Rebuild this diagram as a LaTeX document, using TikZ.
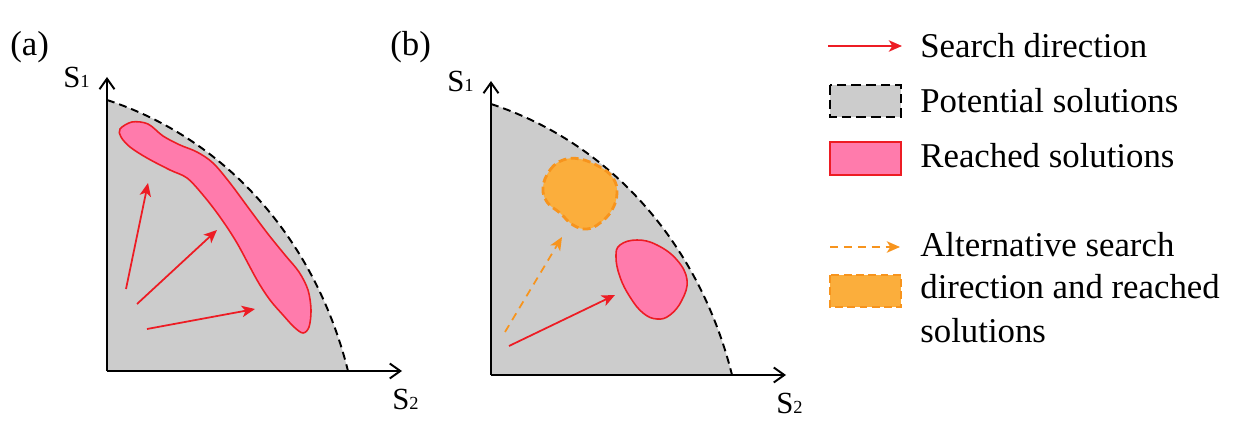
\documentclass[tikz,border=0pt]{standalone}
\usepackage{fontspec}
\setmainfont{Liberation Serif}
\usetikzlibrary{arrows.meta}
\definecolor{potgray}{HTML}{CCCCCC}
\definecolor{reachpink}{HTML}{FF7BAC}
\definecolor{searchred}{HTML}{ED1C24}
\definecolor{altfill}{HTML}{FBAE3C}
\definecolor{altline}{HTML}{F7941D}
\tikzset{
  axis/.style={line width=1.1pt, -{Straight Barb[length=6pt,width=8.5pt,line width=1.1pt]}},
  front/.style={line width=1.1pt, dash pattern=on 4.5pt off 2.8pt},
  potential/.style={fill=potgray},
  reached/.style={fill=reachpink, draw=searchred, line width=0.9pt},
  altreached/.style={fill=altfill, draw=altline, line width=1.6pt, dash pattern=on 4.5pt off 2.5pt},
  searcharrow/.style={draw=searchred, line width=1pt, -{Stealth[length=7.5pt,width=6.5pt,inset=2pt]}},
  altarrow/.style={draw=altline, line width=1pt, dash pattern=on 4.5pt off 3.4pt, -{Stealth[length=7.5pt,width=6.5pt,inset=2pt]}},
  legtext/.style={anchor=base west, inner sep=0pt, font=\fontsize{19.8}{24}\selectfont},
  axlabel/.style={anchor=base west, inner sep=0pt, font=\fontsize{17.5}{20}\selectfont},
  panellabel/.style={anchor=base west, inner sep=0pt, font=\fontsize{19.8}{24}\selectfont},
}
\newcommand{\subone}[1]{{\fontsize{10.5}{12}\selectfont #1}}
\begin{document}
\begin{tikzpicture}[x=0.02cm, y=-0.02cm]
  \useasboundingbox (0,0) rectangle (1248,422);
  % the two panels: potential region, front and axes
  \foreach \ox/\oy/\lab in {107/371/a, 491/375/b}{
    \fill[potential] (\ox,\oy-271) .. controls (\ox+125,\oy-230) and (\ox+210,\oy-125) .. (\ox+241,\oy) -- (\ox,\oy) -- cycle;
    \draw[front] (\ox,\oy-271) .. controls (\ox+125,\oy-230) and (\ox+210,\oy-125) .. (\ox+241,\oy);
    \coordinate (O-\lab) at (\ox,\oy);
    \coordinate (Y-\lab) at (\ox,\oy-294);
    \coordinate (X-\lab) at (\ox+295,\oy);
    \draw[axis] (O-\lab) -- (Y-\lab);
    \draw[axis] (O-\lab) -- (X-\lab);
    \node[axlabel] (S1-\lab) at (\ox-44,\oy-283) {S\subone{1}};
    \node[axlabel] (S2-\lab) at (\ox+285,\oy+38) {S\subone{2}};
  }
  \node[panellabel] (lab-a) at (10,56) {(a)};
  \node[panellabel] (lab-b) at (390,56) {(b)};

  % (a) reached solutions along the front
  \draw[reached] plot[smooth cycle, tension=0.55] coordinates {
    (120,129) (132,122) (148,124) (163,136) (180,145) (197,152) (213,163)
    (230,183) (250,210) (268,234) (285,255) (299,272) (308,290) (311,310)
    (309,327) (303,333) (294,327) (283,315) (270,300) (257,280) (237,243)
    (220,217) (203,195) (187,178) (170,170) (147,158) (130,147) (121,137)};
  \coordinate (a1s) at (126,289); \coordinate (a1e) at (148,183);
  \coordinate (a2s) at (137,304); \coordinate (a2e) at (217,230);
  \coordinate (a3s) at (147,329); \coordinate (a3e) at (255,309);
  \draw[searcharrow] (a1s) -- (a1e);
  \draw[searcharrow] (a2s) -- (a2e);
  \draw[searcharrow] (a3s) -- (a3e);

  % (b) one search and an alternative one
  \draw[altreached] plot[smooth cycle, tension=0.7] coordinates {
    (543,187) (550,170) (563,160) (580,159) (600,167) (613,178) (617,193)
    (612,210) (600,223) (587,229) (573,225) (560,213) (547,202)};
  \draw[reached] plot[smooth cycle, tension=0.7] coordinates {
    (620,245) (637,240) (657,245) (677,260) (687,280) (682,300) (670,315)
    (657,319) (643,313) (630,297) (620,277) (616,257)};
  \coordinate (b1s) at (509,346); \coordinate (b1e) at (615,295);
  \coordinate (b2s) at (505,332); \coordinate (b2e) at (562,237);
  \draw[searcharrow] (b1s) -- (b1e);
  \draw[altarrow] (b2s) -- (b2e);

  % legend
  \coordinate (l1s) at (828,46); \coordinate (l1e) at (902,46);
  \draw[searcharrow] (l1s) -- (l1e);
  \node[legtext] (t1) at (920,58) {Search direction};
  \filldraw[potential, draw=black, line width=1.1pt, dash pattern=on 5.5pt off 2.8pt] (830,85) rectangle (901,117);
  \node[legtext] (t2) at (920,113) {Potential solutions};
  \filldraw[reached] (830,142) rectangle (901,175);
  \node[legtext] (t3) at (920,168) {Reached solutions};
  \coordinate (l4s) at (830,247); \coordinate (l4e) at (900,247);
  \draw[altarrow] (l4s) -- (l4e);
  \node[legtext] (t4) at (920,257) {Alternative search};
  \filldraw[altreached] (830,275) rectangle (901,307);
  \node[legtext] (t5) at (920,298) {direction and reached};
  \node[legtext] (t6) at (920,342) {solutions};
\end{tikzpicture}
\end{document}
